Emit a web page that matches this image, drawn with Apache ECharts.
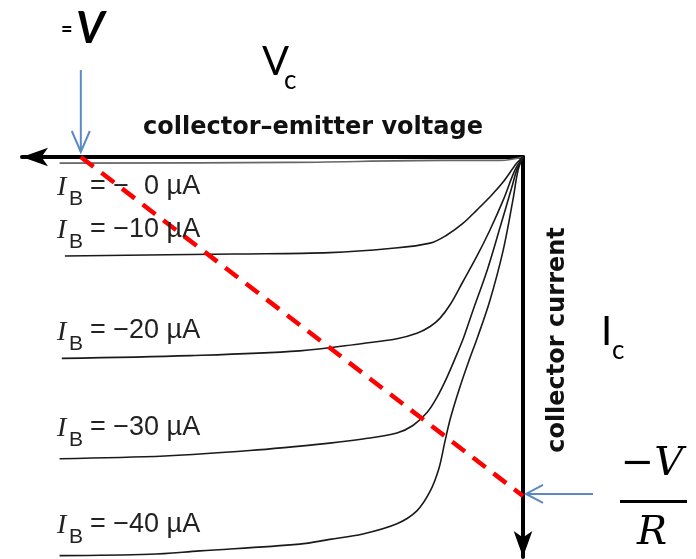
<!DOCTYPE html>
<html>
<head>
<meta charset="utf-8">
<script src="https://cdn.jsdelivr.net/npm/echarts@6.0.0/dist/echarts.min.js"></script>
<style>
html, body { margin: 0; padding: 0; background: #fff; }
#chart { width: 696px; height: 559px; }
</style>
</head>
<body>
<div id="chart"></div>
<script>
// supply voltage (V) and load resistance (kOhm) -> load line end points
var vSupply = 10;
var rLoad = 2;

// base current levels (uA, shown as negative)
var ibLevels = ['\u20070', '10', '20', '30', '40'];

// [Vce (V), Ic (mA)]
var ib0 = [[-10.48, -0.09], [-5.3, -0.08], [-1.8, -0.05], [-0.5, -0.05], [0, 0]];
var ib10 = [[-10.36, -1.46], [-6.52, -1.43], [-4.37, -1.41], [-3.01, -1.35], [-2.10, -1.27], [-1.72, -1.15],
    [-1.36, -0.98], [-1.04, -0.78], [-0.75, -0.59], [-0.45, -0.37], [-0.14, -0.09], [0, 0]];
var ib20 = [[-10.43, -2.97], [-7.53, -2.93], [-5.05, -2.86], [-3.62, -2.75], [-2.85, -2.68], [-2.40, -2.60],
    [-2.10, -2.50], [-1.88, -2.38], [-1.65, -2.18], [-1.36, -1.84], [-1.04, -1.46], [-0.75, -1.08],
    [-0.45, -0.64], [-0.18, -0.19], [0, 0]];
var ib30 = [[-10.48, -4.45], [-8.10, -4.41], [-6.18, -4.33], [-4.37, -4.22], [-3.62, -4.16], [-2.85, -4.07],
    [-2.49, -3.96], [-2.17, -3.77], [-1.95, -3.55], [-1.72, -3.25], [-1.49, -2.90], [-1.34, -2.66],
    [-1.13, -2.26], [-0.81, -1.67], [-0.52, -1.04], [-0.25, -0.44], [-0.14, -0.19], [0, 0]];
var ib40 = [[-10.48, -5.88], [-8.44, -5.86], [-7.31, -5.81], [-5.05, -5.71], [-4.37, -5.64], [-3.62, -5.56],
    [-2.85, -5.41], [-2.40, -5.22], [-2.10, -4.93], [-1.90, -4.59], [-1.77, -4.21], [-1.64, -3.85],
    [-1.43, -3.40], [-1.22, -3.00], [-1.04, -2.68], [-0.75, -2.12], [-0.45, -1.38], [-0.23, -0.64],
    [-0.11, -0.19], [0, 0]];
var curves = [ib0, ib10, ib20, ib30, ib40];

var loadLine = [[-vSupply, 0], [0, -vSupply / rLoad]];

var myChart = echarts.init(document.getElementById('chart'));

var curveSeries = curves.map(function (c, i) {
    return {
        name: 'IB' + i,
        type: 'line',
        data: c,
        smooth: 0.35,
        symbol: 'none',
        silent: true,
        lineStyle: { color: i === 0 ? '#666' : '#1a1a1a', width: 1.6 }
    };
});

var option = {
    animation: false,
    grid: { left: 22, right: 173, top: 157, bottom: 2 },
    xAxis: {
        type: 'value',
        position: 'top',
        min: -11.33,
        max: 0,
        axisLine: {
            show: true,
            onZero: false,
            symbol: ['arrow', 'none'],
            symbolSize: [14, 26],
            lineStyle: { color: '#000', width: 4 }
        },
        axisTick: { show: false },
        axisLabel: { show: false },
        splitLine: { show: false }
    },
    yAxis: {
        type: 'value',
        position: 'right',
        min: -5.9,
        max: 0,
        axisLine: {
            show: true,
            onZero: false,
            symbol: ['arrow', 'none'],
            symbolSize: [14, 26],
            lineStyle: { color: '#000', width: 4 }
        },
        axisTick: { show: false },
        axisLabel: { show: false },
        splitLine: { show: false }
    },
    series: curveSeries.concat([{
        name: 'load',
        type: 'line',
        data: loadLine,
        symbol: 'none',
        silent: true,
        z: 5,
        lineStyle: { color: '#ff0000', width: 4.5, type: [16, 10] }
    }])
};
myChart.setOption(option);

// annotations, anchored on the data where it matters
var labelDy = [14, -36, -37, -41, -41];
var blue = '#5a8ac6';
var g = [];
curves.forEach(function (c, i) {
    var p = myChart.convertToPixel({ gridIndex: 0 }, c[0]);
    var top = p[1] + labelDy[i];
    g.push({ type: 'text', x: 57, y: top - 3, z: 50,
        style: { text: 'I', font: 'italic 28px "Liberation Serif"', fill: '#222', textVerticalAlign: 'top' } });
    g.push({ type: 'text', x: 69, y: top + 12, z: 50,
        style: { text: 'B', font: '21px "Liberation Sans"', fill: '#222', textVerticalAlign: 'top' } });
    g.push({ type: 'text', x: 90, y: top - 4, z: 50,
        style: { text: '= \u2212' + ibLevels[i] + ' \u00b5A', font: '27px "Liberation Sans"', fill: '#222', textVerticalAlign: 'top' } });
});

var vPt = myChart.convertToPixel({ gridIndex: 0 }, loadLine[0]);
var iPt = myChart.convertToPixel({ gridIndex: 0 }, loadLine[1]);

// blue arrow down to -V
g.push({ type: 'line', z: 60, shape: { x1: vPt[0], y1: 70, x2: vPt[0], y2: vPt[1] - 5 },
    style: { stroke: blue, lineWidth: 2 } });
g.push({ type: 'polyline', z: 60, shape: { points: [[vPt[0] - 9, vPt[1] - 26], [vPt[0], vPt[1] - 5], [vPt[0] + 9, vPt[1] - 26]] },
    style: { stroke: blue, lineWidth: 2, fill: null } });
// blue arrow left to -V/R
g.push({ type: 'line', z: 60, shape: { x1: 593, y1: iPt[1] - 2, x2: iPt[0] + 3, y2: iPt[1] - 2 },
    style: { stroke: blue, lineWidth: 2 } });
g.push({ type: 'polyline', z: 60, shape: { points: [[iPt[0] + 20, iPt[1] - 11], [iPt[0] + 3, iPt[1] - 2], [iPt[0] + 20, iPt[1] + 7]] },
    style: { stroke: blue, lineWidth: 2, fill: null } });

// axis titles
g.push({ type: 'text', x: 313, y: 116, z: 50,
    style: { text: 'collector\u2013emitter voltage', font: 'bold 24px "DejaVu Sans"', fill: '#111', textAlign: 'center', textVerticalAlign: 'top' } });
g.push({ type: 'text', x: 558, y: 340, z: 50, rotation: Math.PI / 2,
    style: { text: 'collector current', font: 'bold 24px "DejaVu Sans"', fill: '#111', textAlign: 'center', textVerticalAlign: 'middle' } });

// symbols
g.push({ type: 'text', x: 262, y: 42, z: 50,
    style: { text: 'V', font: '40px Lato', fill: '#000', textVerticalAlign: 'top' } });
g.push({ type: 'text', x: 284, y: 68, z: 50,
    style: { text: 'c', font: '26px Lato', fill: '#000', textVerticalAlign: 'top' } });
g.push({ type: 'text', x: 601, y: 312, z: 50,
    style: { text: 'I', font: '40px Lato', fill: '#000', textVerticalAlign: 'top' } });
g.push({ type: 'text', x: 612, y: 338, z: 50,
    style: { text: 'c', font: '26px Lato', fill: '#000', textVerticalAlign: 'top' } });
g.push({ type: 'text', x: 61, y: 20, z: 50,
    style: { text: '=', font: 'bold 20px Lato', fill: '#000', textVerticalAlign: 'top' } });
g.push({ type: 'text', x: 76, y: 7, z: 50,
    style: { text: 'V', font: 'bold italic 44px Lato', fill: '#000', textVerticalAlign: 'top' } });

// -V / R fraction
g.push({ type: 'text', x: 652, y: 445, z: 50,
    style: { text: '\u2212V', font: 'italic 40px "DejaVu Serif"', fill: '#000', textAlign: 'center', textVerticalAlign: 'top' } });
g.push({ type: 'rect', z: 50, shape: { x: 620, y: 500, width: 67, height: 3 }, style: { fill: '#000' } });
g.push({ type: 'text', x: 652, y: 514, z: 50,
    style: { text: 'R', font: 'italic 40px "DejaVu Serif"', fill: '#000', textAlign: 'center', textVerticalAlign: 'top' } });

myChart.setOption({ graphic: g });
</script>
</body>
</html>
